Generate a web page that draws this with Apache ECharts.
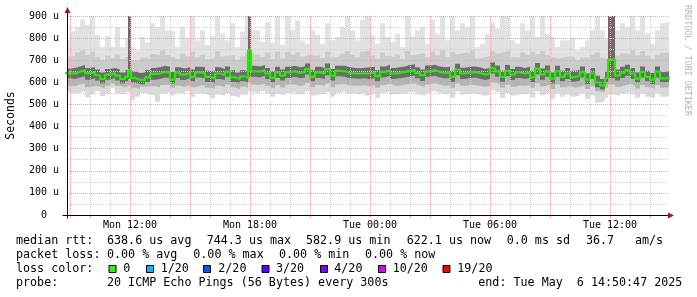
<!DOCTYPE html>
<html><head><meta charset="utf-8">
<script src="https://cdn.jsdelivr.net/npm/echarts@6/dist/echarts.min.js"></script>
<style>html,body{margin:0;padding:0;background:#fff}#c{width:697px;height:297px}</style>
</head><body><div id="c"></div>
<script>
// time in hours since Mon 00:00
const T = [8.75,
 9, 9.25, 9.5, 9.75,
 10, 10.25, 10.5, 10.75,
 11, 11.25, 11.5, 11.75, 11.9,
 12.05, 12.25, 12.5, 12.75,
 13, 13.25, 13.5, 13.75,
 14, 14.25, 14.5, 14.75,
 15, 15.25, 15.5, 15.75,
 16, 16.25, 16.5, 16.75,
 17, 17.25, 17.5, 17.75, 17.9,
 18.05, 18.25, 18.5, 18.75,
 19, 19.25, 19.5, 19.75,
 20, 20.25, 20.5, 20.75,
 21, 21.25, 21.5, 21.75,
 22, 22.25, 22.5, 22.75,
 23, 23.25, 23.5, 23.75,
 24, 24.25, 24.5, 24.75,
 25, 25.25, 25.5, 25.75,
 26, 26.25, 26.5, 26.75,
 27, 27.25, 27.5, 27.75,
 28, 28.25, 28.5, 28.75,
 29, 29.25, 29.5, 29.75,
 30, 30.25, 30.5, 30.75,
 31, 31.25, 31.5, 31.75,
 32, 32.25, 32.5, 32.75,
 33, 33.25, 33.5, 33.75,
 34, 34.25, 34.5, 34.75,
 35, 35.25, 35.5, 35.75, 35.9,
 36.25, 36.5, 36.75,
 37, 37.25, 37.5, 37.75,
 38, 38.25, 38.5, 38.75,
 39];

// median rtt (microseconds)
const MEDIAN = [642,
 640, 648, 655, 642,
 645, 632, 615, 635,
 642, 630, 615, 625, 655,
 620, 612, 610, 622,
 638, 640, 648, 645,
 612, 645, 635, 642,
 625, 645, 642, 625,
 618, 640, 632, 648,
 624, 615, 627, 620, 744,
 650, 648, 655, 640,
 620, 645, 630, 645,
 650, 642, 647, 660,
 625, 645, 640, 660,
 630, 652, 650, 642,
 640, 640, 640, 640,
 645, 628, 647, 655,
 640, 642, 647, 652,
 656, 642, 632, 650,
 655, 647, 642, 645,
 625, 658, 640, 645,
 647, 642, 635, 640,
 665, 650, 625, 652,
 635, 645, 640, 645,
 624, 662, 636, 650,
 617, 650, 625, 640,
 624, 630, 647, 612,
 640, 600, 586, 620, 703,
 630, 644, 655,
 640, 617, 647, 625,
 612, 648, 618, 622,
 622];

// smoke: slowest ping
const MAXV = [790,
 830, 850, 885, 860,
 900, 815, 760, 810,
 760, 850, 760, 800, 920,
 760, 745, 806, 780,
 867, 850, 905, 836,
 830, 760, 850, 800,
 900, 790, 836, 770,
 810, 900, 821, 790,
 867, 760, 830, 900, 920,
 836, 836, 783, 873,
 780, 900, 770, 900,
 836, 880, 790, 776,
 836, 815, 776, 867,
 790, 806, 850, 900,
 836, 790, 882, 900,
 813, 776, 867, 806,
 783, 820, 760, 900,
 806, 836, 850, 776,
 882, 820, 900, 790,
 900, 836, 867, 850,
 900, 760, 776, 820,
 867, 844, 900, 900,
 790, 776, 867, 836,
 900, 806, 900, 820,
 806, 760, 790, 790,
 800, 745, 760, 790,
 836, 900, 836, 800, 920,
 836, 867, 850,
 900, 836, 900, 821,
 776, 836, 867, 873,
 873];

// smoke: fastest ping
const MINV = [556,
 548, 552, 560, 533,
 545, 560, 538, 548,
 575, 550, 545, 555, 560,
 520, 535, 552, 545,
 540, 512, 548, 555,
 540, 552, 545, 558,
 535, 550, 548, 540,
 528, 545, 540, 552,
 538, 530, 545, 540, 560,
 555, 550, 560, 548,
 535, 548, 540, 552,
 555, 545, 550, 560,
 540, 548, 545, 555,
 535, 552, 560, 548,
 550, 545, 552, 540,
 548, 530, 552, 558,
 545, 548, 550, 556,
 558, 545, 538, 550,
 560, 552, 545, 548,
 530, 558, 545, 550,
 548, 545, 538, 545,
 565, 555, 530, 552,
 540, 548, 545, 550,
 532, 558, 542, 552,
 525, 550, 535, 545,
 535, 540, 550, 525,
 540, 508, 515, 530, 545,
 538, 548, 555,
 545, 530, 548, 535,
 528, 550, 535, 538,
 538];

// smoke: upper outer quantile
const HI2 = [715,
 720, 735, 745, 725,
 740, 715, 700, 720,
 710, 725, 705, 715, 920,
 700, 695, 712, 705,
 728, 722, 745, 725,
 715, 705, 730, 718,
 740, 712, 725, 705,
 710, 742, 718, 720,
 725, 700, 718, 735, 920,
 728, 725, 715, 735,
 705, 740, 708, 738,
 725, 735, 718, 725,
 720, 722, 710, 740,
 712, 720, 730, 742,
 725, 712, 738, 745,
 722, 708, 735, 720,
 712, 725, 705, 742,
 725, 728, 732, 712,
 740, 722, 745, 715,
 738, 728, 735, 730,
 745, 708, 712, 720,
 742, 730, 738, 745,
 715, 712, 735, 725,
 740, 728, 742, 722,
 712, 708, 715, 718,
 715, 700, 712, 712,
 725, 735, 712, 705, 920,
 720, 732, 728,
 745, 722, 742, 720,
 705, 725, 735, 738,
 738];

// smoke: lower outer quantile
const LO2 = [585,
 582, 590, 595, 578,
 585, 580, 572, 585,
 595, 585, 578, 582, 590,
 575, 570, 580, 582,
 583, 578, 588, 590,
 575, 585, 580, 588,
 578, 585, 588, 576,
 572, 585, 580, 590,
 578, 570, 580, 575, 600,
 590, 588, 595, 585,
 575, 588, 578, 590,
 590, 585, 588, 598,
 578, 588, 585, 595,
 578, 590, 592, 586,
 586, 584, 588, 582,
 588, 575, 588, 594,
 585, 586, 590, 592,
 595, 586, 578, 590,
 596, 590, 585, 588,
 575, 595, 585, 588,
 588, 585, 580, 584,
 600, 592, 575, 590,
 580, 586, 584, 588,
 575, 596, 582, 590,
 570, 590, 578, 584,
 576, 580, 588, 570,
 582, 560, 555, 575, 590,
 580, 586, 594,
 585, 572, 588, 578,
 570, 588, 575, 578,
 578];

// smoke: upper inner quantile
const HI3 = [662,
 665, 672, 678, 665,
 668, 658, 645, 660,
 665, 658, 645, 655, 920,
 650, 642, 645, 655,
 665, 668, 675, 670,
 648, 668, 662, 668,
 658, 670, 668, 652,
 650, 668, 660, 672,
 655, 645, 655, 650, 920,
 675, 672, 678, 665,
 650, 670, 658, 670,
 675, 668, 672, 685,
 655, 670, 665, 685,
 660, 675, 675, 668,
 665, 664, 666, 668,
 670, 655, 672, 680,
 665, 668, 672, 678,
 682, 668, 658, 676,
 680, 672, 668, 670,
 652, 684, 666, 670,
 672, 668, 660, 665,
 690, 676, 652, 678,
 660, 670, 665, 670,
 652, 688, 662, 676,
 645, 675, 652, 665,
 652, 656, 672, 640,
 665, 630, 615, 648, 920,
 658, 670, 680,
 665, 645, 672, 652,
 642, 672, 648, 652,
 652];

// smoke: lower inner quantile
const LO3 = [618,
 615, 622, 628, 612,
 618, 608, 595, 612,
 620, 608, 595, 605, 615,
 598, 592, 590, 602,
 612, 615, 622, 620,
 595, 620, 610, 618,
 605, 622, 618, 602,
 598, 615, 610, 625,
 602, 595, 605, 600, 625,
 625, 622, 630, 615,
 600, 620, 608, 620,
 625, 618, 622, 635,
 605, 620, 615, 632,
 608, 628, 625, 618,
 617, 616, 618, 614,
 620, 605, 622, 630,
 615, 618, 622, 626,
 632, 618, 606, 625,
 630, 622, 617, 620,
 603, 632, 615, 620,
 622, 616, 610, 615,
 640, 625, 603, 628,
 610, 620, 615, 620,
 602, 636, 612, 625,
 595, 625, 605, 615,
 603, 608, 622, 592,
 615, 578, 568, 600, 620,
 608, 620, 630,
 615, 598, 622, 605,
 592, 622, 600, 604,
 604];

const X_LABEL_HOURS = [12, 18, 24, 30, 36];

const LEGEND_LABELS = ['median rtt:', 'packet loss:', 'loss color:', 'probe:'];
const RTT_TEXTS = ['638.6 us avg', '744.3 us max', '582.9 us min', '622.1 us now', '0.0 ms sd', '36.7', 'am/s'];
const LOSS_TEXTS = ['0.00 % avg', '0.00 % max', '0.00 % min', '0.00 % now'];
const LOSS_COLOR_LABELS = ['0', '1/20', '2/20', '3/20', '4/20', '10/20', '19/20'];
const LOSS_COLORS = ['#26ff00', '#00b8ff', '#0059ff', '#5e00ff', '#7e00ff', '#dd00ff', '#ff0000'];
const PROBE_TEXT = '20 ICMP Echo Pings (56 Bytes) every 300s';
const END_TEXT = 'end: Tue May  6 14:50:47 2025';
const WATERMARK = 'RRDTOOL / TOBI OETIKER';

const MONO = 'DejaVu Sans Mono';
const XMIN = 8.85, XMAX = 38.95;
const RED = '#e9a6a6', GRAY = '#d0d0d0';

const chart = echarts.init(document.getElementById('c'), null, {renderer: 'canvas'});

function pairs(a) { return T.map((t, i) => [t, a[i]]); }
// areas painted from the top level down, each filling to the axis
function area(name, values, color) {
  return {
    type: 'line', name, step: 'end', data: pairs(values), symbol: 'none',
    lineStyle: {width: 0, opacity: 0},
    areaStyle: {color, opacity: 1, origin: 'start'},
    z: 2, silent: true, animation: false
  };
}

const gridLines = [];
for (let v = 50; v <= 900; v += 50)
  gridLines.push({yAxis: v, lineStyle: {color: v % 100 === 0 ? RED : GRAY, type: [1, 1], width: 1}});
for (let h = 9; h <= 38; h++)
  gridLines.push({xAxis: h, lineStyle: {color: h % 3 === 0 ? RED : GRAY, type: [1, 1], width: 1}});

const hourTicks = [];
for (let h = 9; h <= 38; h++) hourTicks.push(h);

const maxArea = area('max', MAXV, '#e2e2e2');
maxArea.markLine = {silent: true, symbol: ['none', 'none'], label: {show: false}, animation: false, data: gridLines};

function pad(n) { return (n < 10 ? '0' : '') + n; }

chart.setOption({
  animation: false,
  backgroundColor: '#ffffff',
  grid: {left: 67, right: 28, top: 16, bottom: 82, outerBoundsMode: 'none', containLabel: false},
  xAxis: {
    type: 'value', min: XMIN, max: XMAX,
    axisLine: {show: false},
    splitLine: {show: false},
    axisTick: {show: true, customValues: hourTicks, length: 3, lineStyle: {color: '#d9b0b0'}},
    axisLabel: {
      customValues: X_LABEL_HOURS, margin: 5,
      fontFamily: MONO, fontSize: 10, color: '#000',
      formatter: v => (v < 24 ? 'Mon ' : 'Tue ') + pad(v % 24) + ':00'
    }
  },
  yAxis: {
    type: 'value', min: 0, max: 900, interval: 100,
    name: 'Seconds', nameLocation: 'middle', nameRotate: 90, nameGap: 50,
    nameTextStyle: {fontFamily: MONO, fontSize: 11.5, color: '#000'},
    axisLine: {show: false}, axisTick: {show: false}, splitLine: {show: false},
    axisLabel: {
      fontFamily: MONO, fontSize: 10, color: '#000', margin: 8,
      formatter: v => v === 0 ? '0  ' : v + ' u'
    }
  },
  series: [
    maxArea,
    area('hi2', HI2, '#cbcbcb'),
    area('hi3', HI3, '#6c6c6c'),
    area('lo3', LO3, '#b4b4b4'),
    area('lo2', LO2, '#dadada'),
    area('min', MINV, '#ffffff'),
    {
      type: 'line', name: 'median', step: 'end', symbol: 'none',
      data: pairs(MEDIAN),
      lineStyle: {color: '#22ee00', width: 2.2},
      z: 6, silent: true, animation: false
    }
  ]
});

// axes, arrows, legend text
const p0 = chart.convertToPixel({gridIndex: 0}, [XMIN, 0]);
const pTop = chart.convertToPixel({gridIndex: 0}, [XMIN, 900]);
const pRight = chart.convertToPixel({gridIndex: 0}, [XMAX, 0]);
const ax = Math.round(p0[0]) + 0.5, ay = Math.round(p0[1]) + 0.5;
const topY = Math.round(pTop[1]), rightX = Math.round(pRight[0]);
const ARROW = '#a01818';

const g = [];
g.push({type: 'line', z: 50, shape: {x1: ax, y1: ay + 3, x2: ax, y2: topY - 3}, style: {stroke: '#000', lineWidth: 1}});
g.push({type: 'line', z: 50, shape: {x1: ax - 5, y1: ay, x2: rightX, y2: ay}, style: {stroke: '#000', lineWidth: 1}});
g.push({type: 'polygon', z: 51, shape: {points: [[ax - 3, topY - 3], [ax + 3, topY - 3], [ax, topY - 9]]}, style: {fill: ARROW}});
g.push({type: 'polygon', z: 51, shape: {points: [[rightX - 1, ay - 3], [rightX - 1, ay + 3], [rightX + 5, ay]]}, style: {fill: ARROW}});

function txt(x, y, s, extra) {
  return Object.assign({type: 'text', z: 60, x, y, style: Object.assign({text: s, fill: '#000', font: '11.7px "' + MONO + '"', textVerticalAlign: 'middle', textAlign: 'left'}, extra || {})});
}
const ROWS = [241, 255, 269, 283];
LEGEND_LABELS.forEach((s, i) => g.push(txt(16, ROWS[i], s)));
const RTT_X = [107, 206.7, 306, 406.7, 506.7, 586, 635];
RTT_TEXTS.forEach((s, i) => g.push(txt(RTT_X[i], ROWS[0], s)));
const LOSS_X = [107, 193.3, 279, 365];
LOSS_TEXTS.forEach((s, i) => g.push(txt(LOSS_X[i], ROWS[1], s)));
const BOX_X = [108.5, 146, 203, 261.5, 320, 378, 442.5];
const BOX_TXT_X = [123.3, 160.7, 218.3, 276, 334.3, 392.7, 457.3];
LOSS_COLOR_LABELS.forEach((s, i) => {
  g.push({type: 'rect', z: 60, shape: {x: BOX_X[i] + 0.5, y: 265.5, width: 7, height: 7}, style: {fill: LOSS_COLORS[i], stroke: '#000', lineWidth: 1}});
  g.push(txt(BOX_TXT_X[i], ROWS[2], s));
});
g.push(txt(107, ROWS[3], PROBE_TEXT));
g.push(txt(478.3, ROWS[3], END_TEXT));
g.push({type: 'text', z: 60, x: 683, y: 5, rotation: -Math.PI / 2,
  style: {text: WATERMARK, fill: '#b5b5b5', font: '8.4px "' + MONO + '"', textAlign: 'left', textVerticalAlign: 'bottom'}});

chart.setOption({graphic: g});
</script>
</body></html>
